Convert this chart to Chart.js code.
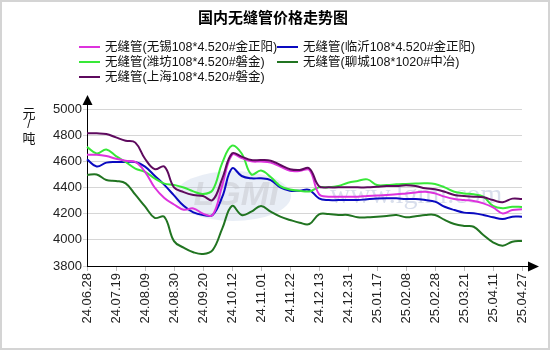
<!DOCTYPE html>
<html>
<head>
<meta charset="utf-8">
<script src="https://cdn.jsdelivr.net/npm/chart.js@4/dist/chart.umd.min.js"></script>
<style>
  html, body { margin: 0; padding: 0; background: #fff; }
  #wrap { width: 550px; height: 350px; }
</style>
</head>
<body>
<div id="wrap"><canvas id="pipeChart" width="550" height="350"></canvas></div>
<script>
// ================= DATA =================
const dateLabels = [
  "24.06.28", "24.07.19", "24.08.09", "24.08.30", "24.09.20", "24.10.12",
  "24.11.01", "24.11.22", "24.12.13", "24.12.31", "25.01.17", "25.02.08",
  "25.02.28", "25.03.21", "25.04.11", "25.04.27"
];
const STEP = 3; // points between two dated ticks

const wuxi = [4650, 4650, 4640, 4620, 4605, 4595, 4520, 4400, 4320, 4270,
  4230, 4240, 4200, 4190, 4420, 4650, 4625, 4600, 4598, 4590,
  4560, 4528, 4526, 4534, 4350, 4330, 4330, 4330, 4330, 4335,
  4338, 4343, 4348, 4355, 4362, 4368, 4355, 4330, 4312, 4304,
  4297, 4279, 4248, 4202, 4228, 4233];
const linyi = [4615, 4560, 4590, 4595, 4595, 4595, 4560, 4490, 4420, 4340,
  4260, 4210, 4190, 4190, 4330, 4546, 4488, 4470, 4470, 4457,
  4401, 4376, 4376, 4381, 4317, 4304, 4304, 4304, 4304, 4310,
  4315, 4317, 4317, 4312, 4312, 4304, 4292, 4253, 4228, 4208,
  4203, 4190, 4172, 4159, 4177, 4177];
const weifang = [4710, 4660, 4690, 4640, 4595, 4545, 4520, 4470, 4430, 4420,
  4400, 4370, 4350, 4380, 4590, 4720, 4660, 4500, 4530, 4480,
  4410, 4385, 4375, 4370, 4401, 4401, 4411, 4437, 4450, 4462,
  4419, 4419, 4424, 4427, 4430, 4432, 4427, 4401, 4368, 4355,
  4348, 4330, 4259, 4241, 4253, 4251];
const liaocheng = [4495, 4500, 4457, 4450, 4432, 4345, 4255, 4168, 4176, 3990,
  3940, 3905, 3892, 3922, 4088, 4259, 4190, 4215, 4259, 4215,
  4177, 4152, 4131, 4121, 4195, 4197, 4190, 4190, 4172, 4172,
  4177, 4182, 4190, 4172, 4180, 4190, 4190, 4152, 4121, 4106,
  4100, 4037, 3981, 3955, 3986, 3991];
const shanghai = [4814, 4814, 4809, 4783, 4758, 4743, 4620, 4540, 4560, 4401,
  4365, 4343, 4335, 4304, 4470, 4660, 4636, 4610, 4610, 4605,
  4572, 4540, 4534, 4546, 4410, 4401, 4401, 4401, 4401, 4401,
  4406, 4411, 4411, 4417, 4411, 4394, 4386, 4368, 4343, 4335,
  4330, 4325, 4304, 4287, 4315, 4312];

const seriesNames = [
  "无缝管(无锡108*4.520#金正阳)",
  "无缝管(临沂108*4.520#金正阳)",
  "无缝管(潍坊108*4.520#磐金)",
  "无缝管(聊城108*1020#中冶)",
  "无缝管(上海108*4.520#磐金)"
];
const seriesColors = ["#dd33dd", "#0a0ac0", "#38e838", "#217421", "#5e0a5e"];
const seriesData = [wuxi, linyi, weifang, liaocheng, shanghai];
const drawOrder = [1, 3, 2, 4, 0]; // shanghai on top

const labels = wuxi.map((_, i) => (i % STEP === 0 ? dateLabels[i / STEP] : ""));

// ================= LAYOUT =================
const PLOT_LEFT = 87;
const PLOT_RIGHT = 522;
const PLOT_TOP = 109;
const PLOT_BOTTOM = 266;
const FONT_CJK = "'Liberation Sans', 'Noto Sans CJK SC', sans-serif";

// ================= DECOR PLUGIN =================
const decor = {
  id: "decor",
  beforeDraw(chart) {
    const ctx = chart.ctx;
    ctx.save();
    ctx.fillStyle = "#fff";
    ctx.fillRect(0, 0, chart.width, chart.height);
    ctx.strokeStyle = "#d4d4d4";
    ctx.lineWidth = 2;
    ctx.strokeRect(1, 1, chart.width - 2, chart.height - 2);

    // title
    ctx.fillStyle = "#000";
    ctx.font = "bold 15px 'Noto Sans CJK SC', sans-serif";
    ctx.textAlign = "center";
    ctx.textBaseline = "middle";
    ctx.fillText("国内无缝管价格走势图", 273, 17);

    // legend in two columns
    ctx.font = "12.5px " + FONT_CJK;
    ctx.textAlign = "left";
    const cols = [79, 277];
    const rows = [47, 62, 77];
    chart.data.datasets.forEach((ds, i) => {
      const x = cols[i % 2];
      const y = rows[Math.floor(i / 2)];
      ctx.strokeStyle = ds.borderColor;
      ctx.lineWidth = 2;
      ctx.beginPath();
      ctx.moveTo(x, y);
      ctx.lineTo(x + 21, y);
      ctx.stroke();
      ctx.fillStyle = "#111";
      ctx.fillText(ds.label, x + 26, y + 1);
    });

    // unit label, stacked
    ctx.font = "13px 'Noto Sans CJK SC', sans-serif";
    ctx.textAlign = "center";
    ctx.fillText("元", 29, 113);
    ctx.font = "12px 'Liberation Sans', sans-serif";
    ctx.fillText("/", 29, 125);
    ctx.font = "13px 'Noto Sans CJK SC', sans-serif";
    ctx.fillText("吨", 29, 138);
    ctx.restore();
  },
  beforeDatasetsDraw(chart) {
    // faint site watermark
    const ctx = chart.ctx;
    ctx.save();
    ctx.globalAlpha = 0.3;
    ctx.fillStyle = "#b6c6e0";
    ctx.beginPath();
    ctx.ellipse(233, 196, 58, 25, 0, 0, Math.PI * 2);
    ctx.fill();
    ctx.globalAlpha = 0.45;
    ctx.fillStyle = "#c0c0c8";
    ctx.font = "bold italic 34px 'Liberation Sans', sans-serif";
    ctx.textAlign = "center";
    ctx.textBaseline = "middle";
    ctx.fillText("LGMI", 236, 196);
    ctx.globalAlpha = 0.35;
    ctx.fillStyle = "#8ea0c8";
    ctx.font = "28px 'Liberation Serif', serif";
    ctx.textAlign = "left";
    ctx.fillText("www.lgmi.com", 330, 196);
    ctx.restore();
  },
  afterDraw(chart) {
    // axis arrows
    const ctx = chart.ctx;
    const a = chart.chartArea;
    ctx.save();
    ctx.strokeStyle = "#000";
    ctx.fillStyle = "#000";
    ctx.lineWidth = 1;
    ctx.beginPath();
    ctx.moveTo(a.left + 0.5, a.top);
    ctx.lineTo(a.left + 0.5, 104);
    ctx.moveTo(a.right, a.bottom + 0.5);
    ctx.lineTo(529, a.bottom + 0.5);
    ctx.stroke();
    ctx.beginPath();
    ctx.moveTo(a.left + 0.5, 95);
    ctx.lineTo(a.left - 4.5, 105);
    ctx.lineTo(a.left + 5.5, 105);
    ctx.closePath();
    ctx.fill();
    ctx.beginPath();
    ctx.moveTo(539, a.bottom + 0.5);
    ctx.lineTo(528, a.bottom - 4.5);
    ctx.lineTo(528, a.bottom + 5.5);
    ctx.closePath();
    ctx.fill();
    ctx.restore();
  }
};

// ================= CHART =================
new Chart(document.getElementById("pipeChart"), {
  type: "line",
  data: {
    labels,
    datasets: seriesData.map((data, i) => ({
      label: seriesNames[i],
      data,
      borderColor: seriesColors[i],
      backgroundColor: seriesColors[i],
      borderWidth: 2,
      pointRadius: 0,
      tension: 0.4,
      order: drawOrder[i]
    }))
  },
  options: {
    responsive: false,
    animation: false,
    devicePixelRatio: 1,
    layout: { padding: { top: PLOT_TOP, right: 550 - PLOT_RIGHT, left: 0, bottom: 0 } },
    plugins: {
      legend: { display: false },
      title: { display: false },
      tooltip: { enabled: false }
    },
    scales: {
      x: {
        afterFit(scale) { scale.height = 350 - PLOT_BOTTOM; },
        border: { color: "#000", width: 1 },
        grid: {
          drawOnChartArea: false,
          drawTicks: true,
          tickLength: 5,
          color: ctx => (ctx.index % STEP === 0 ? "#bdbdbd" : "rgba(0,0,0,0)")
        },
        ticks: {
          autoSkip: false,
          maxRotation: 90,
          minRotation: 90,
          padding: 2,
          color: "#222",
          font: { size: 13, family: "'Liberation Sans', Arial, sans-serif" }
        }
      },
      y: {
        min: 3800,
        max: 5000,
        afterFit(scale) { scale.width = PLOT_LEFT; },
        border: { color: "#000", width: 1 },
        grid: { color: "#d6d6d6", tickLength: 4, drawTicks: true },
        ticks: {
          stepSize: 200,
          padding: 1,
          color: "#222",
          callback: v => String(v),
          font: { size: 13, family: "'Liberation Sans', Arial, sans-serif" }
        }
      }
    }
  },
  plugins: [decor]
});
</script>
</body>
</html>
